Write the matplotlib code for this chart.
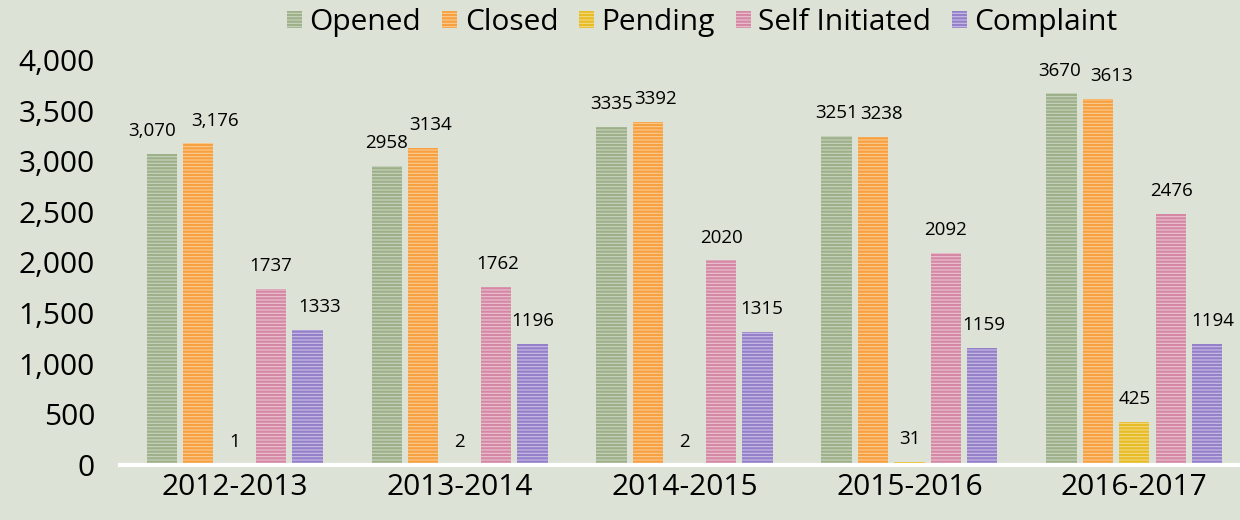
import matplotlib.pyplot as plt
import numpy as np

categories = ["2012-2013", "2013-2014", "2014-2015", "2015-2016", "2016-2017"]
series_names = ["Opened", "Closed", "Pending", "Self Initiated", "Complaint"]
opened = [3070, 2958, 3335, 3251, 3670]
closed = [3176, 3134, 3392, 3238, 3613]
pending = [1, 2, 2, 31, 425]
self_initiated = [1737, 1762, 2020, 2092, 2476]
complaint = [1333, 1196, 1315, 1159, 1194]
yticks = [0, 500, 1000, 1500, 2000, 2500, 3000, 3500, 4000]

series = [opened, closed, pending, self_initiated, complaint]
main_colors = ["#9DB08A", "#F7A040", "#E8BC24", "#D488A4", "#9480C8"]
light_colors = ["#C9D3BE", "#FBCB94", "#F2DA86", "#EBC3D2", "#C9BDE6"]
bg = "#DCE2D5"
# label nudges (pixels) per series, per group
label_dx = [[-10, 0, 0, 0, -2],
            [17, 7, 7, 9, 14],
            [0, 0, 0, 0, 0],
            [0, 2, 1, 0, 1],
            [12, 0, 4, 2, 6]]

plt.rcParams['font.family'] = ['Open Sans', 'DejaVu Sans']
plt.rcParams['hatch.linewidth'] = 1.6
fig = plt.figure(figsize=(12.4, 5.2), dpi=100, facecolor=bg)
ax = fig.add_axes([0.0968, 0.1058, 0.9032, 0.7788])
ax.set_facecolor(bg)

x = np.arange(len(categories))
step = 0.162
width = 0.135
for i, (vals, name) in enumerate(zip(series, series_names)):
    pos = x + (i - 2) * step
    ax.bar(pos, vals, width, color=light_colors[i], edgecolor=main_colors[i],
           hatch='-----', linewidth=0, label=name)
    for j, (p, v) in enumerate(zip(pos, vals)):
        txt = f"{v:,}" if (j == 0 and i < 2) else f"{v}"
        ax.annotate(txt, (p, v), xytext=(label_dx[i][j] * 0.72, 16.5),
                    textcoords='offset points', ha='center', va='center',
                    fontsize=13.5, color='black')

ax.set_xlim(-0.51, 4.47)
ax.set_ylim(0, 4000)
ax.set_yticks(yticks)
ax.set_yticklabels([f"{t:,}" for t in yticks], fontsize=21.5)
ax.set_xticks(x)
ax.set_xticklabels(categories, fontsize=21.5)
ax.tick_params(length=0)
ax.tick_params(axis='x', pad=6)
ax.tick_params(axis='y', pad=18)
for s in ax.spines.values():
    s.set_visible(False)
ax.axhline(0, color='white', linewidth=3, clip_on=False)

leg = ax.legend(loc='center', bbox_to_anchor=(0.52, 1.092), ncol=5, frameon=False,
                fontsize=21.5, handlelength=0.5, handleheight=0.5, handletextpad=0.25,
                columnspacing=0.7, borderaxespad=0.0, borderpad=0.0)

fig.savefig("out.png", dpi=100, facecolor=bg)
